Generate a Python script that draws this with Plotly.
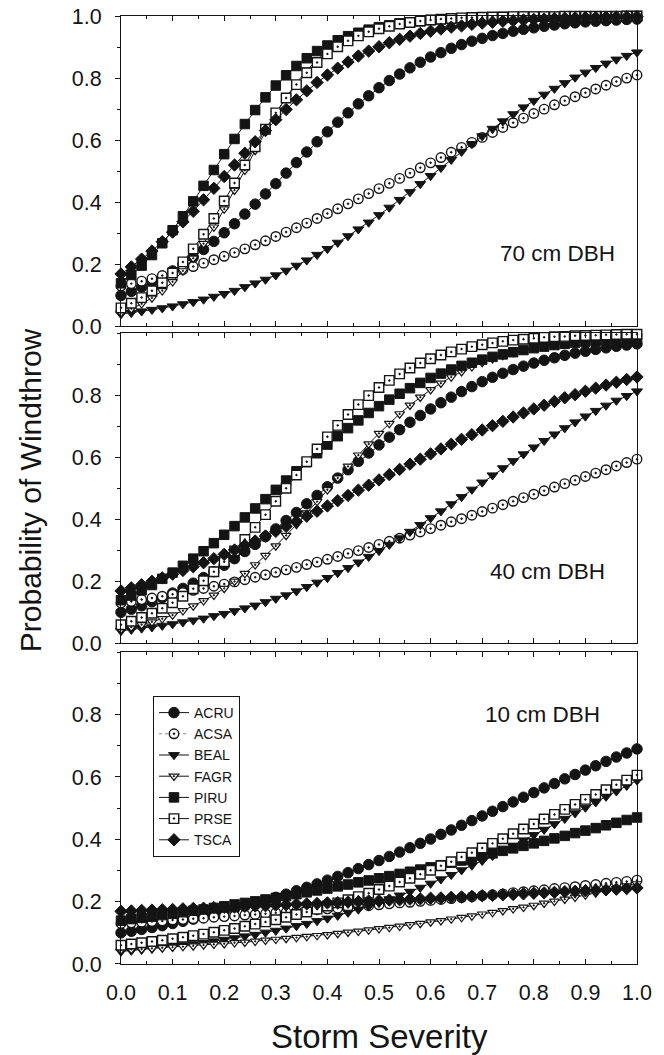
import plotly.graph_objects as go

# ---------------- data ----------------
severity = [0.00, 0.02, 0.04, 0.06, 0.08, 0.10, 0.12, 0.14, 0.16, 0.18,
            0.20, 0.22, 0.24, 0.26, 0.28, 0.30, 0.32, 0.34, 0.36, 0.38,
            0.40, 0.42, 0.44, 0.46, 0.48, 0.50, 0.52, 0.54, 0.56, 0.58,
            0.60, 0.62, 0.64, 0.66, 0.68, 0.70, 0.72, 0.74, 0.76, 0.78,
            0.80, 0.82, 0.84, 0.86, 0.88, 0.90, 0.92, 0.94, 0.96, 0.98, 1.00]

species = ["ACRU", "ACSA", "BEAL", "FAGR", "PIRU", "PRSE", "TSCA"]
panel_labels = ["70 cm DBH", "40 cm DBH", "10 cm DBH"]

# 70 cm DBH
ACRU_70 = [.100, .113, .127, .143, .160, .179, .200, .223, .248, .274, .302,
           .331, .362, .394, .427, .460, .494, .528, .562, .595, .627,
           .658, .688, .717, .743, .769, .792, .813, .833, .851, .868,
           .882, .896, .908, .919, .928, .937, .944, .951, .957, .962,
           .967, .971, .975, .978, .981, .983, .985, .987, .989, .990]
ACSA_70 = [.130, .138, .146, .154, .164, .173, .183, .193, .204, .215, .226,
           .238, .250, .263, .276, .290, .304, .318, .333, .348, .364,
           .379, .395, .411, .428, .444, .461, .477, .494, .511, .527,
           .544, .561, .577, .593, .609, .625, .641, .656, .671, .686,
           .700, .714, .727, .740, .753, .765, .777, .789, .800, .810]
BEAL_70 = [.040, .044, .049, .054, .059, .065, .072, .079, .087, .096, .105,
           .115, .127, .139, .151, .165, .180, .196, .213, .231, .250,
           .270, .291, .313, .335, .359, .383, .408, .433, .459, .485,
           .511, .537, .563, .588, .613, .637, .661, .684, .706, .727,
           .747, .766, .784, .802, .818, .833, .847, .860, .872, .883]
FAGR_70 = [.045, .057, .073, .092, .115, .144, .179, .220, .267, .320, .378,
           .439, .503, .567, .628, .686, .738, .784, .825, .859, .887,
           .910, .929, .944, .956, .966, .973, .979, .984, .987, .990,
           .992, .994, .995, .996, .997, .998, .998, .998, .999, .999,
           .999, .999, .999, .999, 1.0, 1.0, 1.0, 1.0, 1.0, 1.0]
PIRU_70 = [.139, .166, .196, .230, .268, .310, .355, .403, .453, .504, .555,
           .604, .652, .697, .738, .776, .809, .839, .864, .887, .905,
           .922, .935, .946, .956, .964, .970, .976, .980, .983, .987,
           .989, .991, .993, .994, .995, .996, .997, .997, .998, .998,
           .998, .998, .999, .999, .999, .999, .999, .999, 1.0, 1.0]
PRSE_70 = [.060, .075, .093, .115, .141, .172, .208, .250, .297, .348, .404,
           .462, .520, .579, .635, .688, .736, .779, .817, .850, .878,
           .901, .920, .936, .949, .959, .967, .974, .979, .984, .987,
           .990, .992, .994, .995, .996, .997, .997, .998, .998, .998,
           .998, .998, .999, .999, .999, .999, .999, .999, 1.0, 1.0]
TSCA_70 = [.169, .192, .217, .243, .273, .304, .337, .371, .408, .445, .483,
           .520, .558, .595, .631, .666, .699, .730, .759, .786, .810,
           .832, .852, .871, .887, .901, .914, .925, .935, .944, .951,
           .958, .964, .968, .973, .977, .980, .983, .985, .987, .989,
           .990, .992, .993, .994, .995, .995, .996, .997, .997, .998]

# 40 cm DBH
ACRU_40 = [.100, .110, .121, .134, .147, .162, .177, .194, .212, .231, .252,
           .273, .296, .319, .344, .369, .396, .422, .450, .477, .505,
           .533, .560, .587, .614, .640, .665, .689, .713, .735, .756,
           .776, .794, .812, .828, .844, .858, .871, .883, .894, .904,
           .913, .921, .929, .936, .942, .948, .953, .958, .962, .966]
ACSA_40 = [.130, .135, .141, .146, .152, .158, .164, .171, .177, .184, .191,
           .198, .205, .213, .221, .229, .237, .245, .254, .262, .271,
           .280, .290, .299, .309, .319, .329, .339, .349, .359, .370,
           .381, .392, .402, .413, .425, .436, .447, .458, .470, .481,
           .492, .504, .515, .526, .538, .549, .560, .572, .583, .594]
BEAL_40 = [.040, .044, .048, .052, .057, .062, .068, .074, .080, .088, .095,
           .104, .113, .122, .133, .144, .155, .168, .182, .196, .211,
           .227, .243, .261, .279, .298, .318, .339, .360, .382, .404,
           .426, .449, .472, .496, .519, .542, .565, .588, .610, .632,
           .653, .674, .694, .713, .732, .750, .767, .783, .798, .813]
FAGR_40 = [.045, .052, .060, .069, .079, .091, .105, .120, .137, .155, .177,
           .200, .225, .253, .283, .314, .348, .383, .420, .457, .495,
           .533, .571, .607, .643, .677, .709, .740, .768, .794, .818,
           .839, .859, .876, .892, .906, .918, .928, .938, .946, .953,
           .960, .965, .970, .974, .978, .981, .983, .986, .988, .990]
PIRU_40 = [.139, .154, .171, .188, .208, .228, .250, .273, .297, .323, .350,
           .378, .406, .435, .465, .495, .525, .555, .584, .613, .641,
           .668, .694, .719, .743, .765, .786, .805, .823, .840, .856,
           .870, .883, .895, .905, .915, .924, .932, .939, .946, .952,
           .957, .962, .966, .970, .973, .976, .979, .981, .983, .985]
PRSE_40 = [.060, .071, .083, .097, .113, .131, .152, .176, .202, .231, .263,
           .298, .335, .374, .415, .458, .500, .543, .586, .627, .666,
           .703, .738, .770, .799, .825, .848, .869, .888, .904, .918,
           .930, .940, .949, .957, .963, .969, .974, .978, .981, .984,
           .987, .989, .990, .992, .993, .994, .995, .996, .997, .997]
TSCA_40 = [.169, .179, .189, .200, .211, .223, .235, .247, .260, .273, .287,
           .301, .316, .330, .346, .361, .377, .393, .410, .426, .443,
           .460, .477, .494, .510, .527, .544, .561, .578, .594, .611,
           .627, .642, .658, .673, .688, .702, .716, .730, .743, .756,
           .768, .780, .792, .802, .813, .823, .833, .842, .851, .859]

# 10 cm DBH
ACRU_10 = [.100, .105, .111, .117, .123, .130, .137, .144, .152, .160, .168,
           .177, .185, .195, .204, .214, .224, .235, .246, .257, .269,
           .281, .293, .306, .319, .332, .345, .359, .373, .387, .401,
           .416, .430, .445, .460, .475, .490, .505, .520, .535, .550,
           .565, .579, .594, .608, .622, .636, .650, .664, .677, .690]
ACSA_10 = [.130, .132, .134, .136, .138, .141, .143, .145, .147, .150, .152,
           .154, .157, .159, .161, .164, .166, .169, .171, .174, .177,
           .179, .182, .185, .187, .190, .193, .196, .198, .201, .204,
           .207, .210, .213, .216, .219, .222, .225, .229, .232, .235,
           .238, .242, .245, .248, .252, .255, .259, .262, .265, .269]
BEAL_10 = [.040, .043, .046, .049, .052, .056, .060, .064, .068, .073, .078,
           .083, .089, .094, .101, .107, .114, .122, .129, .138, .146,
           .155, .165, .175, .185, .196, .208, .220, .232, .245, .258,
           .272, .286, .301, .316, .331, .347, .364, .380, .397, .414,
           .431, .449, .466, .484, .502, .519, .537, .554, .572, .589]
FAGR_10 = [.045, .047, .048, .050, .052, .054, .056, .058, .061, .063, .065,
           .068, .070, .073, .076, .079, .082, .085, .088, .091, .094,
           .098, .102, .105, .109, .113, .117, .121, .126, .130, .135,
           .139, .144, .149, .154, .160, .165, .171, .177, .182, .188,
           .195, .201, .208, .214, .221, .228, .235, .242, .250, .257]
PIRU_10 = [.139, .144, .148, .152, .157, .161, .166, .171, .175, .180, .185,
           .191, .196, .201, .207, .212, .218, .224, .230, .236, .242,
           .249, .255, .262, .268, .275, .282, .289, .296, .303, .310,
           .317, .325, .332, .340, .348, .355, .363, .371, .379, .387,
           .395, .403, .411, .420, .428, .436, .445, .453, .462, .470]
PRSE_10 = [.060, .064, .068, .072, .076, .081, .086, .091, .096, .102, .108,
           .114, .121, .128, .135, .142, .150, .159, .167, .176, .186,
           .196, .206, .216, .227, .239, .250, .263, .275, .288, .301,
           .315, .328, .343, .357, .372, .387, .402, .418, .433, .449,
           .465, .480, .496, .512, .528, .544, .559, .575, .590, .606]
TSCA_10 = [.169, .170, .172, .173, .174, .175, .177, .178, .179, .181, .182,
           .183, .185, .186, .187, .189, .190, .192, .193, .194, .196,
           .197, .199, .200, .202, .203, .205, .206, .208, .209, .211,
           .212, .214, .215, .217, .219, .220, .222, .223, .225, .227,
           .228, .230, .232, .233, .235, .237, .238, .240, .242, .244]

x_tick_vals = [0.0, 0.1, 0.2, 0.3, 0.4, 0.5, 0.6, 0.7, 0.8, 0.9, 1.0]
x_tick_text = ["0.0", "0.1", "0.2", "0.3", "0.4", "0.5", "0.6", "0.7", "0.8", "0.9", "1.0"]
y_tick_vals_top = [0.0, 0.2, 0.4, 0.6, 0.8, 1.0]
y_tick_text_top = ["0.0", "0.2", "0.4", "0.6", "0.8", "1.0"]
y_tick_vals_low = [0.0, 0.2, 0.4, 0.6, 0.8]
y_tick_text_low = ["0.0", "0.2", "0.4", "0.6", "0.8"]

panel_data = [
    [ACRU_70, ACSA_70, BEAL_70, FAGR_70, PIRU_70, PRSE_70, TSCA_70],
    [ACRU_40, ACSA_40, BEAL_40, FAGR_40, PIRU_40, PRSE_40, TSCA_40],
    [ACRU_10, ACSA_10, BEAL_10, FAGR_10, PIRU_10, PRSE_10, TSCA_10],
]

# ---------------- styles ----------------
INK = "#141414"
FONT = "Liberation Sans, Arial, Helvetica, sans-serif"

marker_styles = {
    "ACRU": dict(symbol="circle", size=10.5, color=INK, line=dict(color=INK, width=1)),
    "ACSA": dict(symbol="circle-dot", size=9.5, color="white", line=dict(color=INK, width=1.4)),
    "BEAL": dict(symbol="triangle-down", size=9.5, color=INK, line=dict(color=INK, width=1)),
    "FAGR": dict(symbol="triangle-down-dot", size=8.5, color="white", line=dict(color=INK, width=1.2)),
    "PIRU": dict(symbol="square", size=9.5, color=INK, line=dict(color=INK, width=1)),
    "PRSE": dict(symbol="square-dot", size=9.5, color="white", line=dict(color=INK, width=1.4)),
    "TSCA": dict(symbol="diamond", size=9.5, color=INK, line=dict(color=INK, width=1)),
}
line_styles = {
    "ACRU": dict(color=INK, width=1),
    "ACSA": dict(color="#8a8a8a", width=1, dash="dot"),
    "BEAL": dict(color=INK, width=1),
    "FAGR": dict(color=INK, width=1),
    "PIRU": dict(color=INK, width=1),
    "PRSE": dict(color=INK, width=1),
    "TSCA": dict(color=INK, width=1),
}

# panel domains (top, middle, bottom)
domains = [[0.6725, 1.0], [0.3383, 0.6653], [0.0, 0.3288]]
label_pos = [(0.845, 0.235), (0.826, 0.23), (0.816, 0.80)]

fig = go.Figure()
for p, series_list in enumerate(panel_data):
    ax = "" if p == 0 else str(p + 1)
    for sp, vals in zip(species, series_list):
        fig.add_trace(go.Scatter(
            x=severity, y=vals, name=sp, mode="lines+markers",
            xaxis="x" + ax, yaxis="y" + ax,
            marker=marker_styles[sp], line=line_styles[sp],
            cliponaxis=False, showlegend=(p == 2),
        ))

# the page body adds an 8 px offset, so the figure is 8 px smaller and margins are shifted
layout = dict(
    width=656, height=1047,
    margin=dict(l=113, r=27, t=8, b=91, autoexpand=False),
    paper_bgcolor="white", plot_bgcolor="white",
    font=dict(family=FONT, color=INK),
    showlegend=True,
    legend=dict(x=0.062, y=0.2827, xanchor="left", yanchor="top",
                bordercolor=INK, borderwidth=1, bgcolor="white",
                font=dict(size=14, family=FONT, color=INK),
                tracegroupgap=0, itemwidth=30),
)

annotations = []
for p in range(3):
    ax = "" if p == 0 else str(p + 1)
    xkey = "xaxis" + ax
    ykey = "yaxis" + ax
    layout[xkey] = dict(
        domain=[0, 1], anchor="y" + ax, range=[0, 1], automargin=False,
        showline=True, linecolor=INK, linewidth=1, mirror="ticks",
        ticks="inside", ticklen=5, tickwidth=1, tickcolor=INK,
        tickvals=x_tick_vals, ticktext=x_tick_text,
        showticklabels=(p == 2), tickfont=dict(size=21.5, family=FONT, color=INK),
        ticklabelstandoff=9, ticklabeloverflow="allow",
        minor=dict(ticks="inside", ticklen=3, tickwidth=1, tickcolor=INK, dtick=0.05, tick0=0),
        showgrid=False, zeroline=False,
    )
    tv = y_tick_vals_top if p == 0 else y_tick_vals_low
    tt = y_tick_text_top if p == 0 else y_tick_text_low
    layout[ykey] = dict(
        domain=domains[p], anchor="x" + ax, range=[0, 1], automargin=False,
        showline=True, linecolor=INK, linewidth=1, mirror=True,
        ticks="outside", ticklen=5, tickwidth=1, tickcolor=INK,
        tickvals=tv, ticktext=tt,
        tickfont=dict(size=21.5, family=FONT, color=INK),
        ticklabelstandoff=9, ticklabeloverflow="allow",
        minor=dict(ticks="outside", ticklen=3, tickwidth=1, tickcolor=INK, dtick=0.1, tick0=0),
        showgrid=False, zeroline=False,
    )
    lx, ly = label_pos[p]
    annotations.append(dict(
        x=lx, y=ly, xref="x" + ax, yref="y" + ax, text=panel_labels[p],
        showarrow=False, font=dict(size=22.5, family=FONT, color=INK),
        xanchor="center", yanchor="middle",
    ))

annotations.append(dict(
    x=-0.176, y=0.5, xref="paper", yref="paper", text="Probability of Windthrow",
    textangle=-90, showarrow=False, font=dict(size=30, family=FONT, color=INK),
    xanchor="center", yanchor="middle",
))
annotations.append(dict(
    x=0.5, y=-0.077, xref="paper", yref="paper", text="Storm Severity",
    showarrow=False, font=dict(size=33, family=FONT, color=INK),
    xanchor="center", yanchor="middle",
))
layout["annotations"] = annotations

fig.update_layout(**layout)
fig.write_html("out.html")
